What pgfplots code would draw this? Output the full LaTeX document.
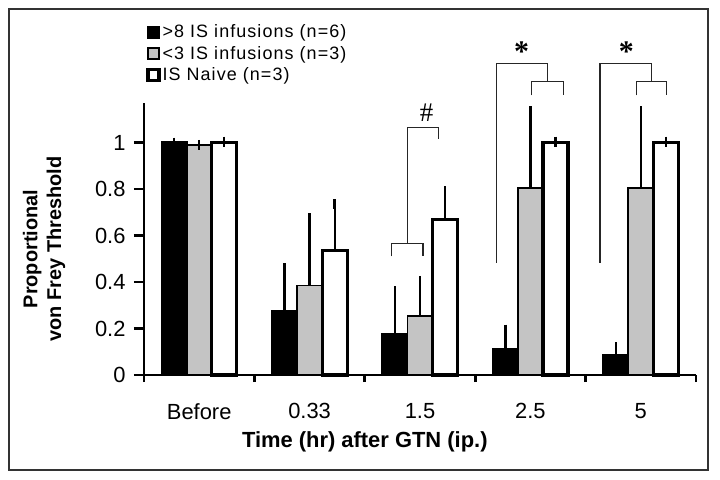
\documentclass[border=0pt]{standalone}
\usepackage{fontspec}
\setmainfont{Liberation Sans}
\newfontfamily\seriffont{Liberation Serif}
\newfontfamily\legfont[LetterSpace=6]{Liberation Sans}
\usepackage{pgfplots}
\usepackage{pgfplotstable}
\pgfplotsset{compat=1.18}
\definecolor{mottle}{HTML}{C4C4C4}

\pgfplotstableread{
x   blk    blke   gry    grye   wht    whte
0   1.000  0.000  0.990  0.000  1.000  0.004
1   0.275  0.185  0.385  0.290  0.535  0.200
2   0.175  0.185  0.255  0.150  0.670  0.120
3   0.110  0.085  0.805  0.330  1.000  0.004
4   0.085  0.035  0.805  0.330  1.000  0.004
}\datatable

\pgfplotsset{
  boxlegend/.style={legend image code/.code={
    \draw[##1] (0bp,-5.5bp) rectangle (11bp,5.5bp);}},
  errs/.style={error bars/.cd, y dir=plus, y explicit,
    error bar style={line width=2.2bp, black},
    error mark options={line width=2.2bp, mark size=5bp, black}},
}

\begin{document}
\begin{tikzpicture}
\useasboundingbox (-144bp,-105bp) rectangle (576bp,375bp);
\draw[line width=1.3bp, black!80] (-135bp,-95bp) rectangle (564bp,366bp);
\begin{axis}[
  at={(0,0)}, anchor=south west,
  scale only axis, width=552bp, height=272bp,
  xmin=-0.5, xmax=4.5, ymin=0, ymax=1.17,
  clip=false,
  axis lines=left,
  axis line style={-, line width=2.8bp},
  ybar=0pt, bar width=25bp,
  xtick={0,1,2,3,4},
  xticklabels={Before,0.33,1.5,2.5,5},
  major x tick style={draw=none},
  minor xtick={-0.5,0.5,1.5,2.5,3.5,4.5},
  minor x tick style={line width=2.8bp, black},
  minor tick length=7bp,
  ytick={0,0.2,0.4,0.6,0.8,1},
  ytick style={line width=2.8bp, black},
  major tick length=10bp,
  tick align=outside,
  tick label style={font=\fontsize{22}{26}\selectfont},
  xticklabel style={yshift=-15bp},
  yticklabel style={xshift=-5bp},
  /pgf/number format/assume math mode=true,
  xlabel={Time (hr) after GTN (ip.)},
  xlabel style={font=\bfseries\fontsize{22}{26}\selectfont,
    at={(axis description cs:0.40,0)}, anchor=center, yshift=-67bp},
  ylabel={Proportional\\von Frey Threshold},
  ylabel style={font=\bfseries\fontsize{20}{24}\selectfont, align=center,
    at={(axis description cs:-0.181,0.463)}, anchor=center},
  legend style={at={(axis description cs:0.004,1.295)}, anchor=north west,
    draw=none, fill=none, font=\legfont\fontsize{18}{20}\selectfont,
    legend cell align=left, row sep=3bp, inner sep=0pt},
]
\addplot[fill=black, draw=black, line width=2.2bp, boxlegend, errs]
  table[x=x, y=blk, y error=blke] {\datatable};
\addlegendentry{>8 IS infusions (n=6)}
\addplot[fill=mottle, draw=black, line width=1.8bp, boxlegend, errs]
  table[x=x, y=gry, y error=grye] {\datatable};
\addlegendentry{<3 IS infusions (n=3)}
\addplot[fill=white, draw=black, line width=3.2bp, boxlegend, errs]
  table[x=x, y=wht, y error=whte] {\datatable};
\addlegendentry{IS Naive (n=3)}

% significance brackets
\draw[line width=1.2bp, black!85]
  (axis cs:1.745,0.51) -- (axis cs:1.745,0.565) -- (axis cs:2.027,0.565) -- (axis cs:2.027,0.51)
  (axis cs:1.886,0.565) -- (axis cs:1.886,1.065) -- (axis cs:2.17,1.065) -- (axis cs:2.17,1.013);
\node at (axis cs:2.06,1.13) {\seriffont\fontsize{27}{27}\selectfont\#};

\draw[line width=1.2bp, black!85]
  (axis cs:3.01,1.203) -- (axis cs:3.01,1.263) -- (axis cs:3.30,1.263) -- (axis cs:3.30,1.203)
  (axis cs:2.69,0.483) -- (axis cs:2.69,1.34) -- (axis cs:3.155,1.34) -- (axis cs:3.155,1.263);
\node at (axis cs:2.92,1.39) {\seriffont\bfseries\fontsize{30}{30}\selectfont*};

\draw[line width=1.2bp, black!85]
  (axis cs:3.96,1.203) -- (axis cs:3.96,1.263) -- (axis cs:4.235,1.263) -- (axis cs:4.235,1.203)
  (axis cs:3.63,0.483) -- (axis cs:3.63,1.34) -- (axis cs:4.10,1.34) -- (axis cs:4.10,1.263);
\node at (axis cs:3.87,1.39) {\seriffont\bfseries\fontsize{30}{30}\selectfont*};
\end{axis}
\end{tikzpicture}
\end{document}
